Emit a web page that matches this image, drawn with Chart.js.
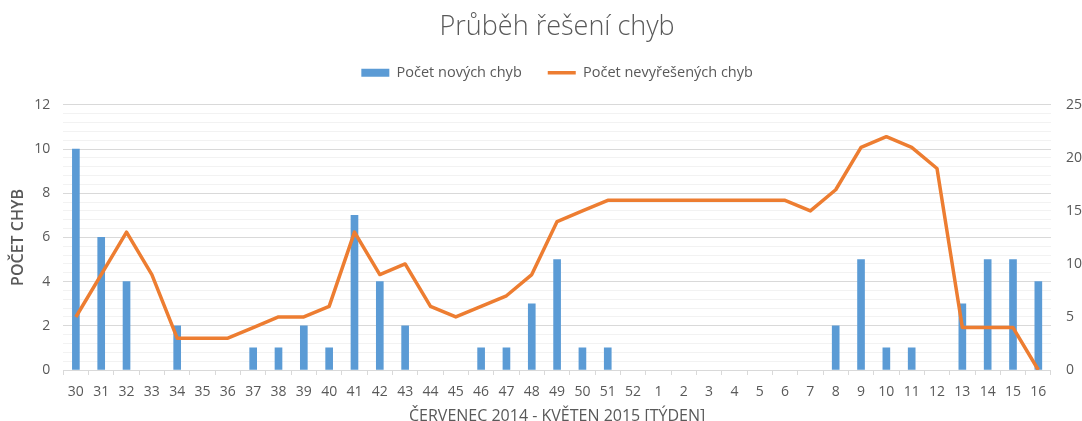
<!DOCTYPE html>
<html>
<head>
<meta charset="utf-8">
<script src="https://cdn.jsdelivr.net/npm/chart.js@4.4.1/dist/chart.umd.min.js"></script>
<style>
  html, body { margin: 0; padding: 0; background: #fff; overflow: hidden; }
  #wrap { width: 1082px; height: 421px; position: relative; }
</style>
</head>
<body>
<div id="wrap"><canvas id="bugChart"></canvas></div>
<script>
// týdny od července 2014 do května 2015
const weeks = ['30', '31', '32', '33', '34', '35', '36', '37', '38', '39', '40', '41', '42',
  '43', '44', '45', '46', '47', '48', '49', '50', '51', '52', '1', '2', '3', '4', '5', '6',
  '7', '8', '9', '10', '11', '12', '13', '14', '15', '16'];

// nové chyby za týden (levá osa)
const newBugs = [10, 6, 4, 0, 2, 0, 0, 1, 1, 2, 1, 7, 4, 2, 0, 0, 1, 1, 3, 5, 1, 1, 0,
  0, 0, 0, 0, 0, 0, 0, 2, 5, 1, 1, 0, 3, 5, 5, 4];

// nevyřešené chyby (pravá osa)
const openBugs = [5, 9, 13, 9, 3, 3, 3, 4, 5, 5, 6, 13, 9, 10, 6, 5, 6, 7, 9, 14, 15, 16, 16,
  16, 16, 16, 16, 16, 16, 15, 17, 21, 22, 21, 19, 4, 4, 4, 0];

const textColor = '#595959';
const fontFamily = "'Open Sans', 'DejaVu Sans', sans-serif";

const ctx = document.getElementById('bugChart').getContext('2d');

// hlavní mřížka po 2, vedlejší po 0,4
const isMajor = v => Math.abs(v / 2 - Math.round(v / 2)) < 1e-6;

const chart = new Chart(ctx, {
  data: {
    labels: weeks,
    datasets: [{
      type: 'bar',
      label: 'Počet nových chyb',
      data: newBugs.map(v => v || null), // nulové týdny bez sloupce
      backgroundColor: '#5B9BD5',
      borderWidth: 0,
      barThickness: 7,
      pointStyle: 'rect',
      yAxisID: 'y',
      order: 1
    }, {
      type: 'line',
      label: 'Počet nevyřešených chyb',
      data: openBugs,
      borderColor: '#ED7D31',
      backgroundColor: '#ED7D31',
      borderWidth: 3.5,
      borderJoinStyle: 'round',
      pointRadius: 0,
      pointStyle: 'line',
      tension: 0,
      fill: false,
      yAxisID: 'y2',
      order: 0
    }]
  },
  options: {
    responsive: true,
    maintainAspectRatio: false,
    animation: false,
    layout: { padding: { left: 0, right: -15, top: 0, bottom: 0 } },
    plugins: {
      title: {
        display: true,
        fullSize: false,
        text: 'Průběh řešení chyb',
        color: textColor,
        font: { family: fontFamily, size: 27, weight: 300 },
        padding: { top: 11, bottom: -4 }
      },
      // mezera mezi legendou a grafem
      subtitle: {
        display: true,
        fullSize: false,
        text: ' ',
        weight: 500,
        font: { size: 10 },
        padding: { top: 0, bottom: 3 }
      },
      legend: {
        reverse: true,
        fullSize: false,
        labels: {
          usePointStyle: true,
          pointStyleWidth: 28,
          boxHeight: 8,
          color: textColor,
          font: { family: fontFamily, size: 14.5 },
          padding: 26
        }
      },
      tooltip: { enabled: false }
    },
    scales: {
      x: {
        offset: true,
        grid: {
          offset: true,
          drawOnChartArea: false,
          tickLength: 5,
          color: '#d9d9d9'
        },
        border: { color: '#d9d9d9' },
        ticks: {
          color: textColor,
          font: { family: fontFamily, size: 14 },
          maxRotation: 0,
          autoSkip: false,
          padding: 9
        },
        title: {
          display: true,
          text: 'ČERVENEC 2014 - KVĚTEN 2015 [TÝDEN]',
          color: textColor,
          font: { family: fontFamily, size: 16 },
          padding: { top: -3, bottom: -5 }
        }
      },
      y: {
        position: 'left',
        min: 0,
        max: 12,
        border: { display: false },
        grid: {
          drawTicks: false,
          color: c => isMajor(c.tick.value) ? '#d9d9d9' : '#f2f2f2'
        },
        ticks: {
          stepSize: 0.4,
          autoSkip: false,
          color: textColor,
          font: { family: fontFamily, size: 14 },
          padding: 13,
          callback: v => isMajor(v) ? Math.round(v) : ''
        },
        title: {
          display: true,
          text: 'POČET CHYB',
          color: textColor,
          font: { family: fontFamily, size: 16, weight: 600 },
          padding: { top: 9, bottom: -7 }
        }
      },
      y2: {
        position: 'right',
        min: 0,
        max: 25,
        border: { display: false },
        grid: { drawOnChartArea: false, drawTicks: false },
        ticks: {
          stepSize: 5,
          color: textColor,
          font: { family: fontFamily, size: 14 },
          padding: 15
        }
      }
    }
  }
});
</script>
</body>
</html>
